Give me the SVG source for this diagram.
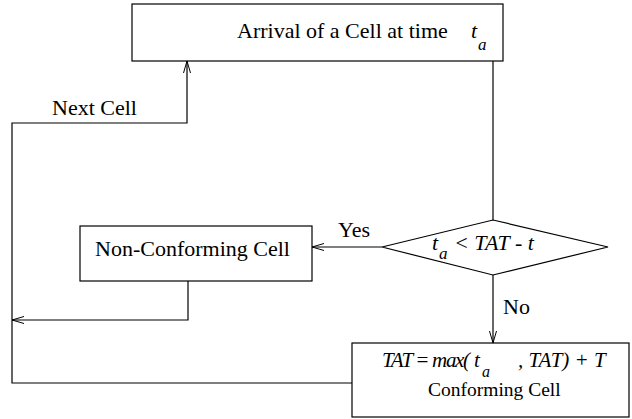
<svg xmlns="http://www.w3.org/2000/svg" width="632" height="419" viewBox="0 0 632 419">
<defs>
<style>
.box{fill:#fff;stroke:#000;stroke-width:1.2}
.ln{fill:none;stroke:#000;stroke-width:1.2}
.t{font-family:'Liberation Serif','DejaVu Serif',serif;font-size:22px;fill:#000}
.it{font-style:italic}
.sub{font-size:17px;font-style:italic}
.m{font-size:21px}
</style>
<marker id="ah" markerWidth="14" markerHeight="10" refX="13" refY="5" orient="auto" markerUnits="userSpaceOnUse">
<path d="M1,1.5 L13,5 L1,8.5" fill="none" stroke="#000" stroke-width="1"/>
</marker>
</defs>
<rect width="632" height="419" fill="#fff"/>
<g id="connectors">
<path class="ln" d="M493,61 V233" marker-end="url(#ah)"/>
<path class="ln" d="M382,247 H312" marker-end="url(#ah)"/>
<path class="ln" d="M493,275 V343" marker-end="url(#ah)"/>
<path class="ln" d="M188,281 V320 H12" marker-end="url(#ah)"/>
<path class="ln" d="M352,383 H12 V123 H187 V61" marker-end="url(#ah)"/>
<text class="t" x="338" y="237">Yes</text>
<text class="t" x="503" y="314">No</text>
<text class="t" x="52" y="115">Next Cell</text>
</g>
<g id="arrival">
<rect class="box" x="132" y="4" width="371" height="57"/>
<text class="t" x="237" y="38">Arrival of a Cell at time</text>
<text class="t it" x="471" y="38">t</text>
<text class="t sub" x="478" y="50">a</text>
</g>
<g id="decision">
<polygon class="box" points="382,247 493,220 608,247 493,275"/>
<text class="t it" x="432" y="250">t</text>
<text class="t sub" x="439" y="259">a</text>
<text class="t it" x="454" y="250">&lt; TAT - t</text>
</g>
<g id="nonconforming">
<rect class="box" x="80" y="226" width="232" height="55"/>
<text class="t" x="95" y="256">Non-Conforming Cell</text>
</g>
<g id="conforming">
<rect class="box" x="352" y="343" width="277" height="74"/>
<text class="t it m" x="382" y="367" textLength="88" lengthAdjust="spacing">TAT = max(</text>
<text class="t it m" x="474" y="367">t</text>
<text class="t sub" x="482" y="377" style="font-size:16px">a</text>
<text class="t it m" x="518" y="367">, TAT) + T</text>
<text class="t" x="428" y="396" style="font-size:19.5px">Conforming Cell</text>
</g>
</svg>
